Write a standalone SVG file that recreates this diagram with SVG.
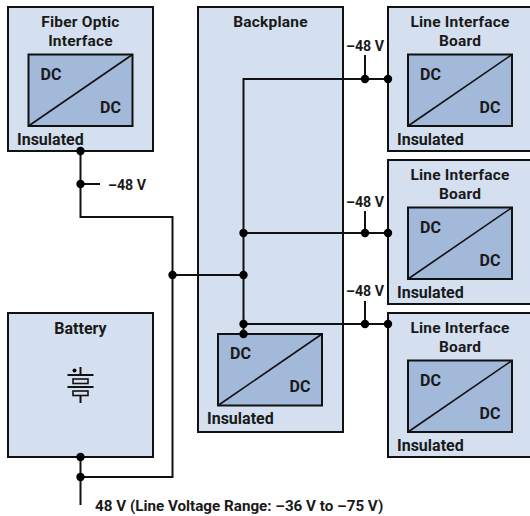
<svg xmlns="http://www.w3.org/2000/svg" width="530" height="516" viewBox="0 0 530 516">
<defs><style>
.box{fill:#d4e0ef;stroke:#111;stroke-width:2}
.conv{fill:#a3b9da;stroke:#111;stroke-width:2}
.diag{fill:none;stroke:#111;stroke-width:1.6}
.wire{fill:none;stroke:#111;stroke-width:2}
.dot{fill:#000}
text{font-family:"Roboto","Liberation Sans",sans-serif;font-weight:700;font-size:16px;fill:#1a1a1a}
.m{text-anchor:middle}
.t{font-size:15.500px;letter-spacing:.2px}
.v{font-size:14.200px}
.r{font-size:15.200px}
</style>
<g id="converter"><rect class="conv" x="0" y="0" width="104" height="71.500"/><path class="diag" d="M0 71.500L104 0"/><text x="12" y="25">DC</text><text x="71.500" y="58">DC</text></g>
</defs>
<g id="fiber-optic-interface"><rect class="box" x="8" y="7" width="145" height="144"/><text class="m t" x="80.500" y="27.400">Fiber Optic</text><text class="m t" x="80.500" y="45.700">Interface</text><use href="#converter" x="28.500" y="54.500"/><text x="17" y="144.500">Insulated</text></g>
<g id="backplane"><rect class="box" x="198" y="7" width="145" height="425"/><text class="m t" x="270.500" y="27.400">Backplane</text></g>
<g id="line-interface-board-1"><rect class="box" x="388" y="7" width="150" height="144"/><text class="m t" x="460" y="27.400">Line Interface</text><text class="m t" x="460" y="45.700">Board</text><use href="#converter" x="408" y="54.500"/><text x="397" y="144.500">Insulated</text></g>
<g id="line-interface-board-2"><rect class="box" x="388" y="160" width="150" height="144"/><text class="m t" x="460" y="180.400">Line Interface</text><text class="m t" x="460" y="198.700">Board</text><use href="#converter" x="408" y="207.500"/><text x="397" y="297.500">Insulated</text></g>
<g id="line-interface-board-3"><rect class="box" x="388" y="313" width="150" height="144"/><text class="m t" x="460" y="333.400">Line Interface</text><text class="m t" x="460" y="351.700">Board</text><use href="#converter" x="408" y="360.500"/><text x="397" y="450.500">Insulated</text></g>
<g id="battery"><rect class="box" x="8" y="313" width="145" height="144"/><text class="m" x="80.500" y="334">Battery</text>
<path class="wire" d="M80.500 367V375M67.500 375H93.500M67.500 387H93.500M80.500 395V403" stroke-width="1.600"/><rect x="73" y="379" width="15" height="4.500" fill="none" stroke="#111" stroke-width="1.600"/><rect x="73" y="391" width="15" height="4.500" fill="none" stroke="#111" stroke-width="1.600"/><circle class="dot" cx="74.500" cy="370.500" r="2"/></g>
<g id="backplane-converter"><use href="#converter" x="218" y="334"/><text x="207" y="424">Insulated</text></g>
<g id="connectors">
<path class="wire" d="M80.500 151V217H172.500V477H80.500M80.500 457V505M80.500 184H100M172.500 275H243.500M243.500 334V79H388M243.500 233H388M243.500 324H388M365 55V79M365 211V233M365 301V324"/>
<g class="dot"><circle cx="80.500" cy="151" r="4.200"/><circle cx="80.500" cy="184" r="4.200"/><circle cx="80.500" cy="457" r="4.200"/><circle cx="80.500" cy="477" r="4.200"/><circle cx="172.500" cy="275" r="4.200"/><circle cx="243.500" cy="275" r="4.200"/><circle cx="243.500" cy="233" r="4.200"/><circle cx="243.500" cy="324" r="4.200"/><circle cx="243.500" cy="334" r="4.200"/><circle cx="365" cy="79" r="4.200"/><circle cx="388" cy="79" r="4.200"/><circle cx="365" cy="233" r="4.200"/><circle cx="388" cy="233" r="4.200"/><circle cx="365" cy="324" r="4.200"/><circle cx="388" cy="324" r="4.200"/></g>
</g>
<g id="labels">
<text class="v" x="108" y="190">–48 V</text><text class="m v" x="365" y="51">–48 V</text><text class="m v" x="365" y="207">–48 V</text><text class="m v" x="365" y="296">–48 V</text>
<text class="r" x="95" y="511">48 V (Line Voltage Range: –36 V to –75 V)</text>
</g>
</svg>
